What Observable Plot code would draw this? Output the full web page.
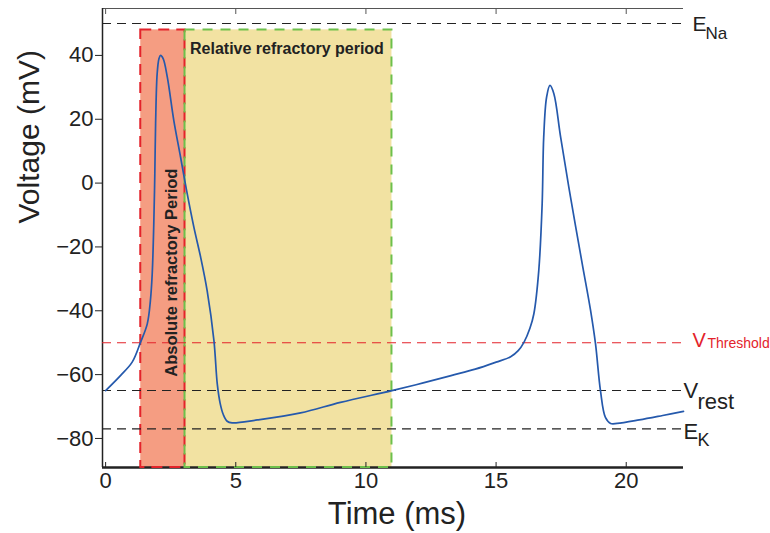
<!DOCTYPE html>
<html><head><meta charset="utf-8">
<script src="https://cdn.jsdelivr.net/npm/d3@7"></script>
<script src="https://cdn.jsdelivr.net/npm/@observablehq/plot@0.6"></script>
<style>body{margin:0;background:#fff} svg{display:block}</style>
</head><body><div id="chart"></div>
<script>
// Membrane potential trace (time in ms, voltage in mV)
const timeMs = [0, 0.57, 1.02, 1.34, 1.6, 1.72, 1.79, 1.85, 1.89, 1.92, 1.98, 2.05, 2.11, 2.21, 2.37, 2.62, 2.88, 3.11, 3.39, 3.65, 3.9, 4.16, 4.29, 4.4, 4.52, 4.67, 4.86, 5.82, 7.49, 9.02, 11.0, 12.2, 13.27, 14.2, 15.0, 15.56, 15.85, 16.07, 16.3, 16.45, 16.64, 16.77, 16.83, 16.94, 17.07, 17.22, 17.48, 17.86, 18.31, 18.63, 18.82, 19.01, 19.2, 19.4, 19.65, 20.5, 21.4, 22.2];
const voltageMv = [-65, -60.3, -56.1, -49.9, -44.1, -36.8, -28.4, -12.8, 2.9, 18.6, 34.3, 39, 40, 39, 33.2, 19.6, 8.1, -2.3, -13.8, -23.2, -33.7, -49.3, -63, -69, -72.5, -74.6, -75.1, -74.2, -72, -68.7, -65, -62.6, -60.3, -58.3, -56.1, -54.4, -52.5, -49.9, -45.5, -41, -27.4, -6.5, 14.4, 26.9, 30.6, 28, 14.4, -4.4, -25.3, -39.9, -50.4, -65, -73.4, -75.3, -75.3, -74.2, -72.8, -71.5];

const xTicks = [0, 5, 10, 15, 20];
const yTicks = [-80, -60, -40, -20, 0, 20, 40];
const xDomain = [-0.12, 22.2];
const yDomain = [-89.1, 54.7];

const refNames = ["E_Na", "V_Threshold", "V_rest", "E_K"];
const refValues = [50, -50, -65, -77];

const periodNames = ["Absolute refractory Period", "Relative refractory period"];
const periodStart = [1.35, 3.05];
const periodEnd = [3.05, 11.0];
const periodTop = 48;

const RED = "#E3232B", INK = "#222", BLUE = "#2559AC";
const idx = d3.range(timeMs.length);
const fmt = d3.format("d");

function refLabel(i, main, sub, color, m, s) {
  return [
    Plot.text([i], {y: j => refValues[j], frameAnchor: "right", text: () => main, textAnchor: "start",
      fill: color, fontSize: m.size, dx: m.dx, dy: m.dy}),
    Plot.text([i], {y: j => refValues[j], frameAnchor: "right", text: () => sub, textAnchor: "start",
      fill: color, fontSize: s.size, dx: s.dx, dy: s.dy})
  ];
}

const chart = Plot.plot({
  width: 770, height: 533,
  marginLeft: 102, marginRight: 87, marginTop: 8, marginBottom: 66,
  x: {domain: xDomain},
  y: {domain: yDomain},
  style: {fontFamily: "'Liberation Sans', Arial, Helvetica, sans-serif", color: INK, background: "#fff"},
  marks: [
    // shaded periods (fill)
    Plot.rect([0], {x1: i => periodStart[i], x2: i => periodEnd[i], y1: yDomain[0], y2: periodTop, fill: "#F59D82"}),
    Plot.rect([1], {x1: i => periodStart[i], x2: i => periodEnd[i], y1: yDomain[0], y2: periodTop, fill: "#F2E2A2"}),
    // axis lines
    Plot.ruleY([yDomain[1]], {stroke: "#555", strokeWidth: 1}),
    Plot.ruleX([xDomain[0]], {stroke: INK, strokeWidth: 1.5}),
    Plot.ruleY([yDomain[0]], {stroke: INK, strokeWidth: 2.5}),
    // dashed borders
    Plot.rect([0], {x1: i => periodStart[i], x2: i => periodEnd[i], y1: yDomain[0], y2: periodTop, fill: "none", stroke: RED, strokeWidth: 2, strokeDasharray: "11,7"}),
    Plot.rect([1], {x1: i => periodStart[i], x2: i => periodEnd[i], y1: yDomain[0], y2: periodTop, fill: "none", stroke: "#6DC04B", strokeWidth: 2, strokeDasharray: "10,8"}),
    // reference levels
    Plot.ruleY([0, 2, 3], {y: i => refValues[i], stroke: INK, strokeWidth: 1.1, strokeDasharray: "9,6"}),
    Plot.ruleY([1], {y: i => refValues[i], stroke: RED, strokeWidth: 1.1, strokeDasharray: "9,6"}),
    // period labels
    Plot.text([1], {x: i => periodStart[i], y: periodTop, text: i => periodNames[i], textAnchor: "start", lineAnchor: "top",
      dx: 5, dy: 12.5, fontWeight: "bold", fontSize: 16, fill: INK}),
    Plot.text([0], {x: i => periodEnd[i], y: (periodTop + yDomain[0]) / 2, text: i => periodNames[i], rotate: -90,
      dx: -13, dy: 24, fontWeight: "bold", fontSize: 16.5, fill: INK}),
    // voltage trace
    Plot.line(idx, {x: i => timeMs[i], y: i => voltageMv[i], curve: "catmull-rom", stroke: BLUE, strokeWidth: 1.7}),
    // axes
    Plot.axisY({ticks: yTicks, tickSize: 7, tickPadding: 2, fontSize: 22, tickFormat: fmt, label: null, stroke: INK}),
    Plot.axisX({anchor: "bottom", ticks: xTicks, tickSize: 5, insetBottom: 5, tickFormat: () => "", label: null, stroke: INK}),
    Plot.axisX({anchor: "top", ticks: xTicks, tickSize: 5, insetTop: 5, tickFormat: () => "", label: null, stroke: "#555"}),
    Plot.axisX({anchor: "bottom", ticks: xTicks, tickSize: 0, tickPadding: 5, fontSize: 22, tickFormat: fmt, label: null}),
    Plot.text(["Time (ms)"], {frameAnchor: "bottom", lineAnchor: "bottom", dy: 56, dx: 4, fontSize: 31, fill: INK}),
    Plot.text(["Voltage (mV)"], {frameAnchor: "left", rotate: -90, dx: -73, dy: -14.5, fontSize: 30, fill: INK}),
    // reference labels
    ...refLabel(0, "E", "Na", INK, {size: 21, dx: 9, dy: 1}, {size: 17, dx: 22, dy: 9.6}),
    ...refLabel(1, "V", "Threshold", RED, {size: 20, dx: 9, dy: -2.4}, {size: 14, dx: 24, dy: 0.5}),
    ...refLabel(2, "V", "rest", INK, {size: 22, dx: 0, dy: 0}, {size: 22, dx: 14, dy: 11}),
    ...refLabel(3, "E", "K", INK, {size: 22, dx: 0, dy: 3}, {size: 18, dx: 14, dy: 11})
  ]
});
document.getElementById("chart").appendChild(chart);
</script>
</body></html>
